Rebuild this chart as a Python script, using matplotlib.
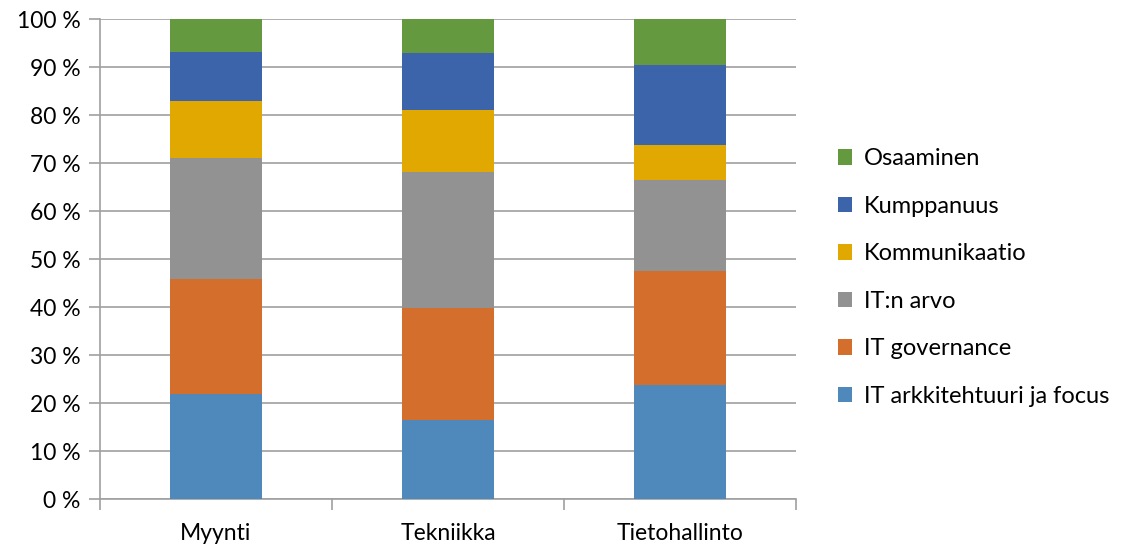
import numpy as np
import matplotlib
matplotlib.use('Agg')
import matplotlib.pyplot as plt
from matplotlib.ticker import FixedLocator

plt.rcParams['font.family'] = ['Lato', 'DejaVu Sans']

categories = ['Myynti', 'Tekniikka', 'Tietohallinto']
series_names = ['IT arkkitehtuuri ja focus', 'IT governance', 'IT:n arvo',
                'Kommunikaatio', 'Kumppanuus', 'Osaaminen']
arkkitehtuuri = [22.0, 16.5, 23.75]
governance = [23.8, 23.4, 23.85]
arvo = [25.4, 28.3, 19.0]
kommunikaatio = [11.8, 13.0, 7.15]
kumppanuus = [10.1, 11.7, 16.65]
osaaminen = [6.9, 7.1, 9.6]
colors = ['#4F88BB', '#D46E2C', '#929292', '#E0A800', '#3C64AB', '#65993F']

series = [arkkitehtuuri, governance, arvo, kommunikaatio, kumppanuus, osaaminen]

fig = plt.figure(figsize=(11.27, 5.46), dpi=100)
ax = fig.add_axes([0.0887, 0.0855, 0.6176, 0.8791])

x = np.arange(len(categories))
bottom = np.zeros(len(categories))
for name, vals, c in zip(series_names, series, colors):
    ax.bar(x, vals, bottom=bottom, width=0.4, color=c, label=name, zorder=3)
    bottom += np.array(vals)

ax.set_xlim(-0.5, len(categories) - 0.5)
ax.set_ylim(0, 100)
ax.set_yticks(np.arange(0, 101, 10))
ax.set_yticklabels([f'{v} %' for v in range(0, 101, 10)], fontsize=16.5)
ax.yaxis.grid(True, color='#A0A0A0', linewidth=1.2, zorder=0)

ax.set_xticks(x)
ax.set_xticklabels(categories, fontsize=16.5)
ax.tick_params(axis='x', which='major', length=0, pad=17)
ax.xaxis.set_minor_locator(FixedLocator(np.arange(-0.5, len(categories), 1.0)))
ax.tick_params(axis='x', which='minor', length=8, color='#A0A0A0', width=1.2)
ax.tick_params(axis='y', length=8, color='#A0A0A0', width=1.2, pad=6)

for s in ['top', 'right']:
    ax.spines[s].set_visible(False)
for s in ['left', 'bottom']:
    ax.spines[s].set_color('#A0A0A0')
    ax.spines[s].set_linewidth(1.2)

handles, labels = ax.get_legend_handles_labels()
ax.legend(handles[::-1], labels[::-1], loc='center left', bbox_to_anchor=(1.06, 0.462),
          frameon=False, fontsize=17, handlelength=0.62, handleheight=0.62,
          handletextpad=0.5, labelspacing=1.12, borderpad=0, borderaxespad=0)

fig.savefig('out.png', dpi=100, facecolor='white')
